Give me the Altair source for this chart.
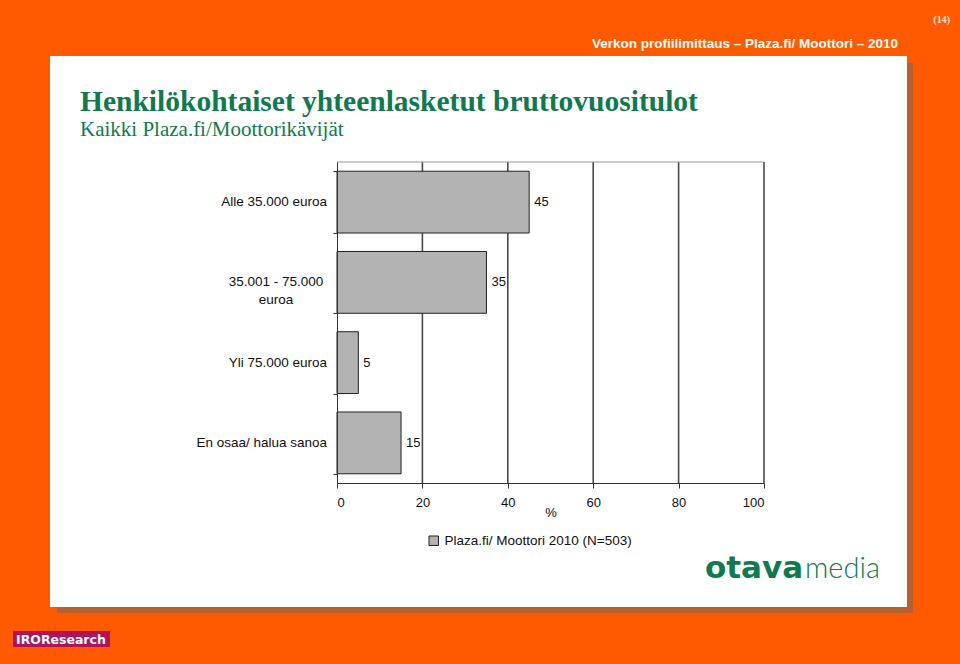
import altair as alt
import pandas as pd

# ---- data ----
categories = ["Alle 35.000 euroa", "35.001 - 75.000 euroa", "Yli 75.000 euroa", "En osaa/ halua sanoa"]
display_labels = ["Alle 35.000 euroa", "35.001 - 75.000\neuroa", "Yli 75.000 euroa", "En osaa/ halua sanoa"]
values = [45, 35, 5, 15]
series_name = "Plaza.fi/ Moottori 2010 (N=503)"
x_ticks = [0, 20, 40, 60, 80, 100]
grid_ticks = [20, 40, 60, 80, 100]

title_text = "Henkilökohtaiset yhteenlasketut bruttovuositulot"
subtitle_text = "Kaikki Plaza.fi/Moottorikävijät"
header_text = "Verkon profiilimittaus – Plaza.fi/ Moottori – 2010"
page_text = "(14)"

W, H = 427, 321
OX, OY = 337, 162  # plot origin on page

ORANGE = "#FF5A00"
GREEN = "#0E7A4E"
FONT = "Liberation Sans"

df = pd.DataFrame({
    "category": categories,
    "label": display_labels,
    "value": values,
    "series": [series_name] * len(categories),
})
df["wrapped"] = df["label"].str.contains("\n")
df_single = df[~df["wrapped"]]
df_wrapped = df[df["wrapped"]]
grid_df = pd.DataFrame({"value": grid_ticks})
one = pd.DataFrame({"a": [0]})

xscale = alt.Scale(domain=[0, 100], nice=False, zero=True)
yscale = alt.Scale(domain=categories, paddingInner=0.23, paddingOuter=0.115)

x_axis = alt.Axis(values=x_ticks, grid=False, domainColor="#333333",
                  tickColor="#333333", tickSize=5, labelFontSize=13,
                  labelFont=FONT, labelColor="#111111", labelPadding=8,
                  title="%", titleFont=FONT, titleFontSize=13,
                  titleFontWeight="normal", titleColor="#111111",
                  titleY=33, titleBaseline="alphabetic", zindex=1)
y_axis = alt.Axis(labels=False, title=None, domainColor="#333333",
                  tickColor="#333333", tickSize=4, tickBand="extent",
                  grid=False, zindex=1)


def px(v):
    return alt.value(v - OX)


def py(v):
    return alt.value(v - OY)


shadow = alt.Chart(one).mark_rect(color="#B5602F").encode(
    x=px(57), x2=px(913), y=py(63), y2=py(613))
panel = alt.Chart(one).mark_rect(color="white").encode(
    x=px(50), x2=px(907), y=py(56), y2=py(607))

grid = alt.Chart(grid_df).mark_rule(color="#4A4A4A", strokeWidth=1.6).encode(
    x=alt.X("value:Q", scale=xscale, axis=x_axis),
    y=alt.value(0), y2=alt.value(H))

top_border = alt.Chart(one).mark_rule(color="#999999", strokeWidth=1).encode(
    x=alt.value(0), x2=alt.value(W), y=alt.value(0))

bars = alt.Chart(df).mark_bar(stroke="#222222", strokeWidth=1, opacity=1).encode(
    x=alt.X("value:Q", scale=xscale, axis=x_axis),
    y=alt.Y("category:N", scale=yscale, sort=categories, axis=y_axis),
    color=alt.Color("series:N", scale=alt.Scale(range=["#B3B3B3"]),
                    legend=alt.Legend(title=None, orient="none", legendX=90, legendY=372,
                                      symbolType="square", symbolSize=90,
                                      symbolStrokeColor="#222222", symbolStrokeWidth=1,
                                      labelFont=FONT, labelFontSize=13.5, labelLimit=0,
                                      labelColor="#111111", labelOffset=4)),
)

value_labels = alt.Chart(df).mark_text(align="left", baseline="middle", dx=5,
                                        font=FONT, fontSize=13, color="#111111").encode(
    x=alt.X("value:Q", scale=xscale, axis=x_axis),
    y=alt.Y("category:N", scale=yscale, sort=categories, axis=y_axis),
    text="value:Q")

cat_single = alt.Chart(df_single).mark_text(align="right", baseline="middle",
                                            font=FONT, fontSize=13.5, color="#111111").encode(
    x=alt.value(-10),
    y=alt.Y("category:N", scale=yscale, sort=categories, axis=y_axis),
    text="label:N")

cat_wrapped = alt.Chart(df_wrapped).mark_text(align="center", baseline="middle",
                                              lineBreak="\n", lineHeight=18,
                                              font=FONT, fontSize=13.5, color="#111111").encode(
    x=alt.value(-61),
    y=alt.Y("category:N", scale=yscale, sort=categories, axis=y_axis),
    text="label:N")


def txt(s, x, y, **kw):
    return alt.Chart(pd.DataFrame({"t": [s]})).mark_text(**kw).encode(
        x=px(x), y=py(y), text="t:N")


title = txt(title_text, 80, 111, align="left", baseline="alphabetic",
            font="Liberation Serif", fontSize=29.5, fontWeight="bold", color=GREEN)
subtitle = txt(subtitle_text, 80, 136, align="left", baseline="alphabetic",
               font="Liberation Serif", fontSize=21, color=GREEN)
header = txt(header_text, 898, 48, align="right", baseline="alphabetic",
             font=FONT, fontSize=13.5, fontWeight="bold", color="white")
page = txt(page_text, 950, 23, align="right", baseline="alphabetic",
           font="Liberation Serif", fontSize=10, fontWeight="bold", color="#FFE6D8")

otava = txt("otava", 705, 578, align="left", baseline="alphabetic",
            font="DejaVu Sans", fontSize=31, fontWeight="bold", color=GREEN)
media = txt("media", 805, 578, align="left", baseline="alphabetic",
            font="Lato", fontSize=29, fontWeight=300, color=GREEN)

iro_box = alt.Chart(one).mark_rect(color="#B0125B").encode(
    x=px(13), x2=px(110), y=py(631), y2=py(647))
iro = txt("IROResearch", 16, 644, align="left", baseline="alphabetic",
          font="DejaVu Sans", fontSize=12.5, fontWeight="bold", color="white")

chart = alt.layer(
    shadow, panel, grid, top_border, bars, value_labels, cat_single, cat_wrapped,
    title, subtitle, header, page, otava, media, iro_box, iro,
).properties(
    width=W, height=H,
    padding={"left": OX, "top": OY, "right": 960 - OX - W, "bottom": 664 - OY - H},
    autosize=alt.AutoSizeParams(type="none"),
    background=ORANGE,
).configure_view(stroke=None)

chart.save("out.html", embed_options={"renderer": "svg", "actions": False})
